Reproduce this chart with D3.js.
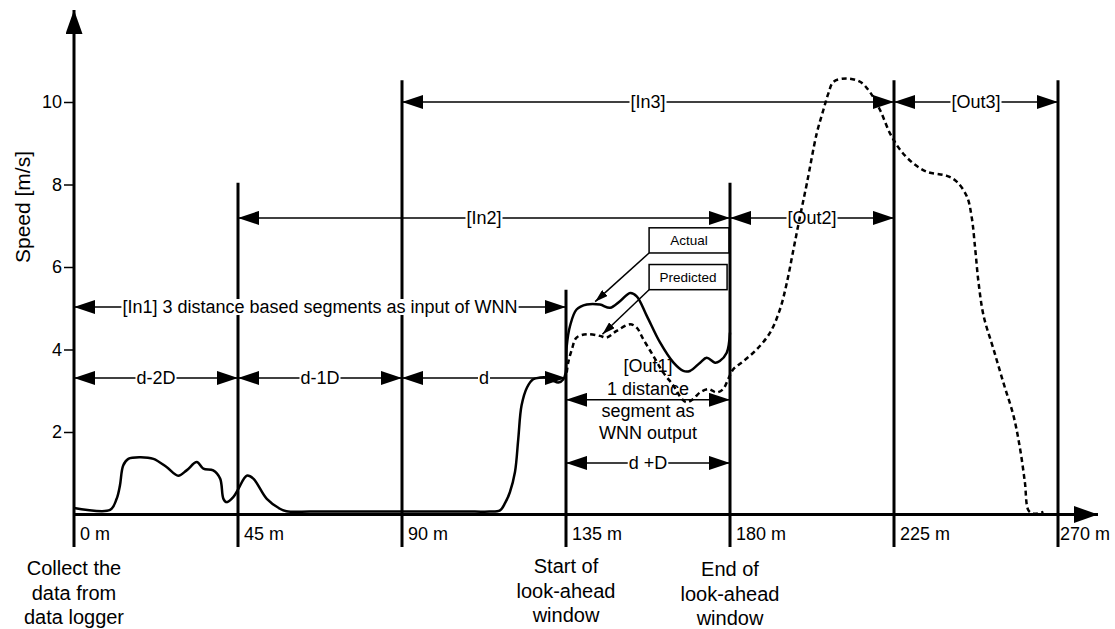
<!DOCTYPE html>
<html>
<head>
<meta charset="utf-8">
<script src="https://cdn.jsdelivr.net/npm/d3@7/dist/d3.min.js"></script>
<style>
  html, body { margin: 0; padding: 0; background: #fff; }
  svg { display: block; font-family: "Liberation Sans", Arial, Helvetica, sans-serif; }
</style>
</head>
<body>
<svg id="chart" width="1115" height="629"></svg>
<script>
// ---- data -------------------------------------------------------------
// distance marks along the route (m) and their labels
const distTicks = [0, 45, 90, 135, 180, 225, 270];
const distLabels = ["0 m", "45 m", "90 m", "135 m", "180 m", "225 m", "270 m"];
// top of each segment boundary line (speed units)
const boundaryTops = [null, 8.04, 10.53, 5.45, 8.04, 10.53, 10.53];

const speedTicks = [2, 4, 6, 8, 10];

// measured speed profile
const actualDist = [0, 9.9, 11.7, 12.6, 13.5, 14.9, 18.1, 21.8, 25.4, 28.6, 30.9, 33.7, 35.5, 38.2, 40.1, 41.0, 41.9, 43.7, 45.1, 47.4, 49.2, 52.9, 56.5, 58.3,
  65, 80, 100, 110, 114, 116.9, 118.3, 119.6, 121.0, 121.9, 122.8, 124.3, 126.0, 127.9, 129.7, 131.5, 132.9, 134.3, 134.9,
  135.2, 136.1, 137.9, 140.7, 144.3, 147.1, 149.8, 152.6, 154.4, 157.2, 160.8, 164.5, 167.2, 169.0, 171.8, 173.6, 175.9, 177.2, 179.1, 180.0];
const actualSpeed = [0.16, 0.11, 0.38, 0.70, 1.19, 1.35, 1.39, 1.35, 1.15, 0.94, 1.07, 1.27, 1.11, 1.07, 0.87, 0.38, 0.30, 0.42, 0.62, 0.94, 0.87, 0.38, 0.14, 0.08,
  0.07, 0.07, 0.07, 0.07, 0.07, 0.10, 0.28, 0.54, 1.03, 1.83, 2.64, 3.08, 3.28, 3.32, 3.32, 3.24, 3.20, 3.28, 3.44,
  4.08, 4.57, 4.97, 5.09, 5.09, 5.01, 5.17, 5.37, 5.29, 4.81, 4.17, 3.68, 3.48, 3.48, 3.68, 3.80, 3.68, 3.72, 3.92, 4.41];

// WNN predicted speed profile
const predictedDist = [135.2, 135.6, 136.6, 137.9, 140.7, 144.3, 146.1, 148.9, 152.6, 154.4, 156.2, 159.0, 161.7, 164.5, 166.8, 168.1, 169.9, 171.8, 174.1, 176.3, 178.1, 179.5,
  180.9, 183.7, 187.3, 191.0, 193.7, 195.6, 197.4, 199.2, 201.1, 203.8, 205.6, 207.0, 208.4, 212.0, 215.7, 218.4, 221.2, 223.9, 226.7, 230.3, 234.0, 239.5, 242.2,
  245.0, 246.3, 247.3, 248.2, 249.6, 252.3, 255.0, 257.8, 259.6, 260.9, 261.9, 263.3, 265.1, 266.0];
const predictedSpeed = [3.44, 3.68, 4.00, 4.29, 4.37, 4.33, 4.29, 4.45, 4.61, 4.53, 4.25, 3.84, 3.44, 3.12, 2.80, 2.72, 2.80, 2.96, 3.04, 2.96, 3.04, 3.28,
  3.52, 3.72, 4.00, 4.41, 4.97, 5.62, 6.42, 7.22, 8.03, 9.24, 9.80, 10.21, 10.49, 10.57, 10.49, 10.24, 9.80, 9.24, 8.84, 8.51, 8.31, 8.21, 8.07,
  7.71, 7.22, 6.42, 5.62, 4.81, 4.01, 3.20, 2.39, 1.59, 0.79, 0.10, 0.02, 0.04, 0.06];

// dimension arrows: segment start/end (m), height (m/s), label
const dimFrom   = [0, 45, 90, 0, 45, 180, 90, 225, 135, 135];
const dimTo     = [45, 90, 135, 135, 180, 225, 225, 270, 180, 180];
const dimLevel  = [3.31, 3.31, 3.31, 5.03, 7.19, 7.19, 10, 10, 2.78, 1.25];
const dimLabels = ["d-2D", "d-1D", "d", "[In1] 3 distance based segments as input of WNN", "[In2]", "[Out2]", "[In3]", "[Out3]", "", "d +D"];

const out1Lines = ["[Out1]", "1 distance", "segment as", "WNN output"];
const bottomNotes = [
  { d: 0, lines: ["Collect the", "data from", "data logger"] },
  { d: 135, lines: ["Start of", "look-ahead", "window"] },
  { d: 180, lines: ["End of", "look-ahead", "window"] }
];
const legendNames = ["Actual", "Predicted"];

// ---- layout -----------------------------------------------------------
const svg = d3.select("#chart");
const x = d3.scaleLinear().domain([0, 270]).range([74, 1058]);
const y = d3.scaleLinear().domain([0, 10]).range([514.5, 102]);
const yBottom = y(-0.79);

const defs = svg.append("defs");
function marker(id, len, wid) {
  defs.append("marker")
    .attr("id", id)
    .attr("viewBox", `0 0 ${len} ${wid}`)
    .attr("refX", len).attr("refY", wid / 2)
    .attr("markerWidth", len).attr("markerHeight", wid)
    .attr("markerUnits", "userSpaceOnUse")
    .attr("orient", "auto-start-reverse")
    .append("path")
    .attr("d", `M0,0 L${len},${wid / 2} L0,${wid} Z`)
    .attr("fill", "#000");
}
marker("dimHead", 21, 14);
marker("axisHead", 24, 17);
marker("leaderHead", 13, 8);

// ---- axes --------------------------------------------------------------
const yAxis = d3.axisLeft(y).tickValues(speedTicks).tickSize(10).tickPadding(2).tickFormat(d3.format("d"));
const gy = svg.append("g").attr("transform", `translate(${x(0)},0)`).call(yAxis);
gy.select(".domain").remove();
gy.selectAll(".tick line").attr("stroke", "#000").attr("stroke-width", 1.5);
gy.selectAll(".tick text").attr("font-size", 18).attr("fill", "#000")
  .attr("font-family", "'Liberation Sans', Arial, sans-serif");

svg.append("text")
  .attr("transform", `translate(22,207) rotate(-90)`)
  .attr("text-anchor", "middle")
  .attr("dominant-baseline", "central")
  .attr("font-size", 21)
  .text("Speed [m/s]");

// y axis line with arrow
svg.append("line")
  .attr("x1", x(0)).attr("x2", x(0))
  .attr("y1", yBottom).attr("y2", 10)
  .attr("stroke", "#000").attr("stroke-width", 3)
  .attr("marker-end", "url(#axisHead)");

// x axis line with arrow
svg.append("line")
  .attr("x1", x(0)).attr("x2", 1098)
  .attr("y1", y(0)).attr("y2", y(0))
  .attr("stroke", "#000").attr("stroke-width", 3)
  .attr("marker-end", "url(#axisHead)");

// segment boundaries
distTicks.forEach((d, i) => {
  if (boundaryTops[i] !== null) {
    svg.append("line")
      .attr("x1", x(d)).attr("x2", x(d))
      .attr("y1", yBottom).attr("y2", y(boundaryTops[i]))
      .attr("stroke", "#000").attr("stroke-width", 3);
  }
  svg.append("text")
    .attr("x", x(d) + (i === distTicks.length - 1 ? 2 : 6))
    .attr("y", 540)
    .attr("font-size", 18)
    .text(distLabels[i]);
});

// ---- dimension arrows ---------------------------------------------------
const dimG = svg.append("g");
dimFrom.forEach((f, i) => {
  const ly = y(dimLevel[i]);
  dimG.append("line")
    .attr("x1", x(f)).attr("x2", x(dimTo[i]))
    .attr("y1", ly).attr("y2", ly)
    .attr("stroke", "#000").attr("stroke-width", 1.5)
    .attr("marker-start", "url(#dimHead)")
    .attr("marker-end", "url(#dimHead)");
  if (dimLabels[i]) {
    const t = dimG.append("text")
      .attr("x", (x(f) + x(dimTo[i])) / 2)
      .attr("y", ly)
      .attr("text-anchor", "middle")
      .attr("dominant-baseline", "central")
      .attr("font-size", 18)
      .text(dimLabels[i]);
    const b = t.node().getBBox();
    dimG.insert("rect", () => t.node())
      .attr("x", b.x - 1).attr("y", b.y + 2)
      .attr("width", b.width + 2).attr("height", b.height - 4)
      .attr("fill", "#fff");
  }
});

// output segment description
const outX = (x(135) + x(180)) / 2;
const outY = y(2.78);
out1Lines.forEach((s, i) => {
  const t = dimG.append("text")
    .attr("x", outX)
    .attr("y", outY + (i - 1.5) * 22.3)
    .attr("text-anchor", "middle")
    .attr("dominant-baseline", "central")
    .attr("font-size", 18)
    .text(s);
  const b = t.node().getBBox();
  dimG.insert("rect", () => t.node())
    .attr("x", b.x - 1).attr("y", b.y + 3)
    .attr("width", b.width + 2).attr("height", b.height - 6)
    .attr("fill", "#fff");
});

// ---- speed curves --------------------------------------------------------
const line = d3.line().curve(d3.curveCatmullRom.alpha(0.5))
  .x(d => x(d[0])).y(d => y(d[1]));

svg.append("path")
  .datum(actualDist.map((d, i) => [d, actualSpeed[i]]))
  .attr("d", line)
  .attr("fill", "none").attr("stroke", "#000").attr("stroke-width", 2.5)
  .attr("stroke-linejoin", "round");

svg.append("path")
  .datum(predictedDist.map((d, i) => [d, predictedSpeed[i]]))
  .attr("d", line)
  .attr("fill", "none").attr("stroke", "#000").attr("stroke-width", 2.5)
  .attr("stroke-dasharray", "5,3.5");

// ---- legend callouts ----------------------------------------------------
const boxD0 = [157.8, 157.8], boxD1 = [179.7, 179.2];
const boxTop = [6.95, 6.06], boxBot = [6.34, 5.45];
const pointD = [143.0, 145.0], pointS = [5.16, 4.37];
legendNames.forEach((name, i) => {
  const bx = x(boxD0[i]), by = y(boxTop[i]);
  const bw = x(boxD1[i]) - bx, bh = y(boxBot[i]) - by;
  svg.append("rect")
    .attr("x", bx).attr("y", by).attr("width", bw).attr("height", bh)
    .attr("fill", "#fff").attr("stroke", "#000").attr("stroke-width", 1.5);
  svg.append("text")
    .attr("x", bx + bw / 2).attr("y", by + bh / 2)
    .attr("text-anchor", "middle").attr("dominant-baseline", "central")
    .attr("font-size", 13.5)
    .text(name);
  svg.append("line")
    .attr("x1", bx).attr("y1", by + bh)
    .attr("x2", x(pointD[i])).attr("y2", y(pointS[i]))
    .attr("stroke", "#000").attr("stroke-width", 1.5)
    .attr("marker-end", "url(#leaderHead)");
});

// ---- notes below the axis -----------------------------------------------
const noteOffsets = [568, 566, 569];
bottomNotes.forEach((n, k) => {
  n.lines.forEach((s, i) => {
    svg.append("text")
      .attr("x", x(n.d))
      .attr("y", noteOffsets[k] + i * 24.5)
      .attr("text-anchor", "middle")
      .attr("dominant-baseline", "central")
      .attr("font-size", 20)
      .text(s);
  });
});
</script>
</body>
</html>
